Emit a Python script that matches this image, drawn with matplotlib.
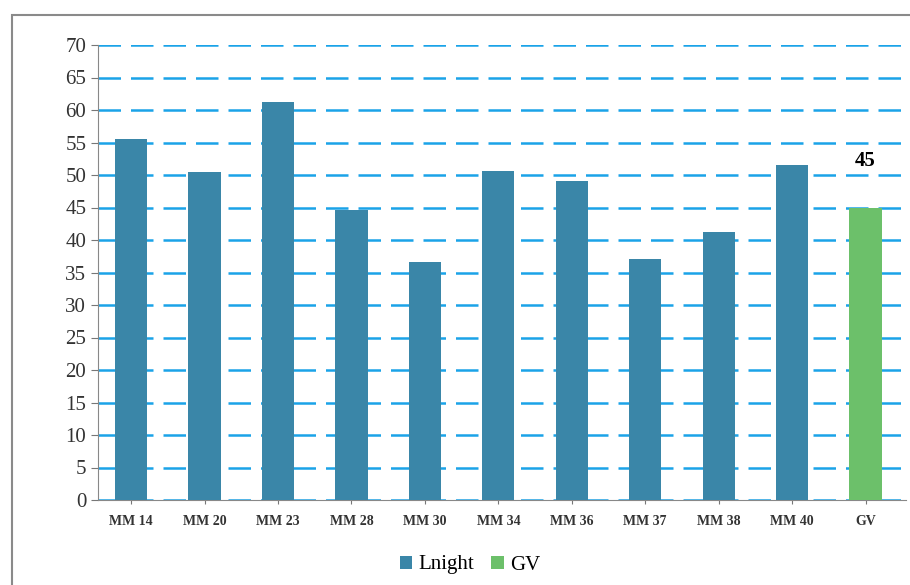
import matplotlib.pyplot as plt
from matplotlib.patches import Rectangle

categories = ["MM 14", "MM 20", "MM 23", "MM 28", "MM 30", "MM 34",
              "MM 36", "MM 37", "MM 38", "MM 40", "GV"]
lnight = [55.6, 50.5, 61.2, 44.6, 36.6, 50.6, 49.1, 37.1, 41.3, 51.5, None]
gv = [None] * 10 + [45]

plt.rcParams['font.family'] = ['Liberation Serif', 'DejaVu Serif']

fig = plt.figure(figsize=(9.10, 5.85), dpi=100)
ax = fig.add_axes([98 / 910, 85 / 585, 808 / 910, 455 / 585])

# scanned chart frame
fig.patches.append(Rectangle((12 / 910, -0.05), 1.1, 1.025, transform=fig.transFigure,
                             fill=False, edgecolor='#8a8a8a', linewidth=1.5))

x = list(range(len(categories)))
ax.bar([i for i, v in zip(x, lnight) if v is not None],
       [v for v in lnight if v is not None],
       width=0.44, color='#3a86a8', label='Lnight', zorder=3)
ax.bar([i for i, v in zip(x, gv) if v is not None],
       [v for v in gv if v is not None],
       width=0.44, color='#6cc06a', label='GV', zorder=3)

for i, v in zip(x, gv):
    if v is not None:
        ax.text(i, v + 5.6, f"{v}", ha='center', va='bottom',
                fontsize=15, fontweight='bold', zorder=4,
                bbox=dict(facecolor='white', edgecolor='none', pad=1))

ax.set_xlim(-0.45, len(categories) - 0.45)
ax.set_ylim(0, 70)
ax.set_yticks(range(0, 75, 5))
ax.yaxis.grid(True, color='#1aa3e8', linestyle=(0, (9, 4)), linewidth=1.8, zorder=1)
ax.set_xticks(x)
ax.set_xticklabels(categories, fontsize=10, fontweight='bold', color='#333333')
ax.tick_params(axis='y', labelsize=15, length=5, color='#777777', labelcolor='#333333')
ax.tick_params(axis='x', length=3, color='#777777', pad=8)

for side in ['top', 'right']:
    ax.spines[side].set_visible(False)
ax.spines['left'].set_color('#888888')
ax.spines['bottom'].set_color('#888888')

fig.legend(loc='center', bbox_to_anchor=(470 / 910, 20 / 585), ncol=2, frameon=False,
           fontsize=15, handlelength=0.6, handleheight=0.6, handletextpad=0.3,
           columnspacing=0.8)

fig.savefig('out.png', dpi=100)
